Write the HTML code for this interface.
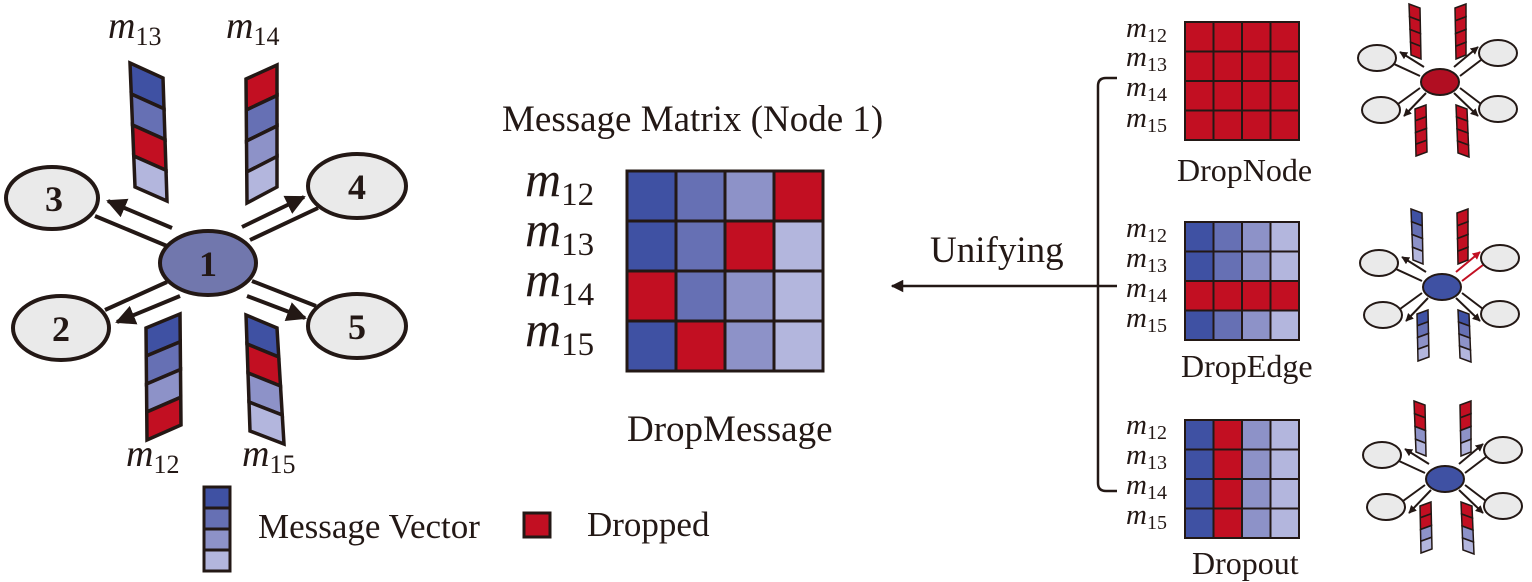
<!DOCTYPE html>
<html><head><meta charset="utf-8"><style>
html,body{margin:0;padding:0;background:#fff;}
svg{display:block;}
text{font-family:"Liberation Serif",serif;fill:#231815;}
.m{font-style:italic;}
</style></head><body>
<svg id="s" width="1532" height="582" viewBox="0 0 1532 582" xmlns="http://www.w3.org/2000/svg">
<defs>
<marker id="ah" viewBox="0 0 10 10" refX="9" refY="5" markerWidth="5" markerHeight="5" orient="auto"><path d="M0,0 L10,5 L0,10 z" fill="#231815"/></marker>
<marker id="ahs" viewBox="0 0 10 10" refX="9" refY="5" markerWidth="4" markerHeight="4" orient="auto"><path d="M0,0 L10,5 L0,10 z" fill="#231815"/></marker>
<marker id="ahr" viewBox="0 0 10 10" refX="9" refY="5" markerWidth="4" markerHeight="4" orient="auto"><path d="M0,0 L10,5 L0,10 z" fill="#c20f22"/></marker>
</defs>
<g stroke="#231815" stroke-width="4">
<line x1="167" y1="246" x2="95" y2="216"/>
<line x1="250" y1="240" x2="318" y2="208"/>
<line x1="167" y1="282" x2="105" y2="310"/>
<line x1="252" y1="281" x2="316" y2="306"/>
<line x1="172" y1="228" x2="108" y2="201" marker-end="url(#ah)"/>
<line x1="242" y1="227" x2="304" y2="197" marker-end="url(#ah)"/>
<line x1="180" y1="296" x2="117" y2="322" marker-end="url(#ah)"/>
<line x1="247" y1="296" x2="305" y2="318" marker-end="url(#ah)"/>
</g>
<g stroke="#231815" stroke-width="4" fill="#eaeaea">
<ellipse cx="52" cy="198" rx="46" ry="31"/>
<ellipse cx="357" cy="186" rx="49" ry="32"/>
<ellipse cx="61" cy="328" rx="48" ry="32"/>
<ellipse cx="357" cy="326" rx="49" ry="32"/>
<ellipse cx="208" cy="263" rx="48" ry="32" fill="#7177ad"/>
</g>
<g font-size="36" font-weight="bold" text-anchor="middle">
<text x="54" y="211">3</text><text x="357" y="199">4</text>
<text x="61" y="341">2</text><text x="357" y="339">5</text>
<text x="208" y="276">1</text>
</g>
<g id="vecs" stroke="#231815" stroke-width="3.5"></g>
<g font-size="38"><text x="108" y="38"><tspan class="m">m</tspan><tspan font-size="26" dy="7">13</tspan></text>
<text x="226" y="38"><tspan class="m">m</tspan><tspan font-size="26" dy="7">14</tspan></text>
<text x="126" y="466"><tspan class="m">m</tspan><tspan font-size="26" dy="7">12</tspan></text>
<text x="242" y="466"><tspan class="m">m</tspan><tspan font-size="26" dy="7">15</tspan></text></g>
<g stroke="#231815" stroke-width="3">
<rect x="204" y="487" width="26" height="21" fill="#3f51a3"/>
<rect x="204" y="508" width="26" height="21" fill="#6670b4"/>
<rect x="204" y="529" width="26" height="21" fill="#8d92c8"/>
<rect x="204" y="550" width="26" height="21" fill="#b3b6dd"/>
<rect x="524" y="513" width="26" height="24" fill="#c20f22"/>
</g>
<text x="258" y="538" font-size="35">Message Vector</text>
<text x="587" y="536" font-size="35">Dropped</text>
<text x="502" y="131" font-size="37">Message Matrix (Node 1)</text>
<g id="mm" stroke="#231815" stroke-width="3"></g>
<g font-size="50"><text x="525" y="196"><tspan class="m">m</tspan><tspan font-size="33" dy="9">12</tspan></text>
<text x="525" y="246"><tspan class="m">m</tspan><tspan font-size="33" dy="9">13</tspan></text>
<text x="525" y="296"><tspan class="m">m</tspan><tspan font-size="33" dy="9">14</tspan></text>
<text x="525" y="346"><tspan class="m">m</tspan><tspan font-size="33" dy="9">15</tspan></text></g>
<text x="627" y="441" font-size="37">DropMessage</text>
<text x="930" y="262" font-size="37">Unifying</text>
<line x1="1097" y1="286" x2="892" y2="286" stroke="#231815" stroke-width="2.5" marker-end="url(#ah)"/>
<path d="M1117,78 L1106,78 Q1098,78 1098,86 L1098,483 Q1098,491 1106,491 L1117,491 M1098,286 L1117,286" fill="none" stroke="#231815" stroke-width="2.5"/>
<g id="rm" stroke="#231815" stroke-width="2"></g>
<g font-size="29">
<text x="1126" y="37"><tspan class="m">m</tspan><tspan font-size="20" dy="5">12</tspan></text>
<text x="1126" y="66"><tspan class="m">m</tspan><tspan font-size="20" dy="5">13</tspan></text>
<text x="1126" y="96"><tspan class="m">m</tspan><tspan font-size="20" dy="5">14</tspan></text>
<text x="1126" y="127"><tspan class="m">m</tspan><tspan font-size="20" dy="5">15</tspan></text>
<text x="1126" y="237"><tspan class="m">m</tspan><tspan font-size="20" dy="5">12</tspan></text>
<text x="1126" y="267"><tspan class="m">m</tspan><tspan font-size="20" dy="5">13</tspan></text>
<text x="1126" y="297"><tspan class="m">m</tspan><tspan font-size="20" dy="5">14</tspan></text>
<text x="1126" y="327"><tspan class="m">m</tspan><tspan font-size="20" dy="5">15</tspan></text>
<text x="1126" y="434"><tspan class="m">m</tspan><tspan font-size="20" dy="5">12</tspan></text>
<text x="1126" y="464"><tspan class="m">m</tspan><tspan font-size="20" dy="5">13</tspan></text>
<text x="1126" y="494"><tspan class="m">m</tspan><tspan font-size="20" dy="5">14</tspan></text>
<text x="1126" y="524"><tspan class="m">m</tspan><tspan font-size="20" dy="5">15</tspan></text>
</g>
<g font-size="32"><text x="1177" y="181">DropNode</text><text x="1181" y="377">DropEdge</text><text x="1192" y="574">Dropout</text></g>
<g id="sg"></g>
</svg>
<script>
var NS="http://www.w3.org/2000/svg";
var C=["#3f51a3","#6670b4","#8d92c8","#b3b6dd"],R="#c20f22";
function el(p,t,a){var e=document.createElementNS(NS,t);for(var k in a)e.setAttribute(k,a[k]);p.appendChild(e);return e;}
function strip(p,tl,tr,br,bl,cols,sw){
 for(var i=0;i<4;i++){var a=i/4,b=(i+1)/4;
  function L(P,Q,t){return [P[0]+(Q[0]-P[0])*t,P[1]+(Q[1]-P[1])*t];}
  var p1=L(tl,bl,a),p2=L(tr,br,a),p3=L(tr,br,b),p4=L(tl,bl,b);
  el(p,"polygon",{points:[p1,p2,p3,p4].map(function(x){return x.join(",")}).join(" "),fill:cols[i],stroke:"#231815","stroke-width":sw});}}
var v=document.getElementById("vecs");
strip(v,[130,63],[163,78],[167,201],[135,187],[C[0],C[1],R,C[3]],3.5);
strip(v,[246,79],[277,65],[277,187],[247,203],[R,C[1],C[2],C[3]],3.5);
strip(v,[146,328],[180,314],[181,425],[147,440],[C[0],C[1],C[2],R],3.5);
strip(v,[246,315],[277,328],[284,444],[250,431],[C[0],R,C[2],C[3]],3.5);
var mm=document.getElementById("mm");
var M=[[C[0],C[1],C[2],R],[C[0],C[1],R,C[3]],[R,C[1],C[2],C[3]],[C[0],R,C[2],C[3]]];
for(var r=0;r<4;r++)for(var c=0;c<4;c++)el(mm,"rect",{x:627+c*49,y:171+r*50,width:49,height:50,fill:M[r][c]});
var rm=document.getElementById("rm");
var Ms=[[[R,R,R,R],[R,R,R,R],[R,R,R,R],[R,R,R,R]],
 [C,C,[R,R,R,R],C],
 [[C[0],R,C[2],C[3]],[C[0],R,C[2],C[3]],[C[0],R,C[2],C[3]],[C[0],R,C[2],C[3]]]];
var Y=[22,222,420];
for(var k=0;k<3;k++)for(var r=0;r<4;r++)for(var c=0;c<4;c++)el(rm,"rect",{x:1185+c*28.5,y:Y[k]+r*29.5,width:28.5,height:29.5,fill:Ms[k][r][c]});
var sg=document.getElementById("sg");
var G=[{dy:0,dx:0,core:"#b10e22",v:[[R,R,R,R],[R,R,R,R],[R,R,R,R],[R,R,R,R]],red:false},
 {dy:205,dx:2,core:"#3f51a3",v:[C,[R,R,R,R],C,C],red:true},
 {dy:397,dx:5,core:"#3f51a3",v:[[R,R,C[2],C[3]],[R,R,C[2],C[3]],[R,R,C[2],C[3]],[R,R,C[2],C[3]]],red:false}];
G.forEach(function(g){
 var dx=g.dx,dy=g.dy,cx=1440+dx,cy=82+dy;
 var sat=[[1377,58],[1498,53],[1381,110],[1498,109]];
 var ln=[[[cx-20,cy-6],[1394,64]],[[cx+20,cy-6],[1481,60]],[[cx-20,cy+6],[1398,104]],[[cx+20,cy+6],[1481,104]]];
 var ar=[[[cx-16,cy-15],[1400,52]],[[cx+14,cy-15],[1478,47]],[[cx-14,cy+11],[1404,116]],[[cx+14,cy+11],[1478,116]]];
 for(var i=0;i<4;i++){
  var col=(g.red&&i==1)?R:"#231815";
  el(sg,"line",{x1:ln[i][0][0],y1:ln[i][0][1],x2:ln[i][1][0]+dx,y2:ln[i][1][1]+dy,stroke:col,"stroke-width":2});
  el(sg,"line",{x1:ar[i][0][0],y1:ar[i][0][1],x2:ar[i][1][0]+dx,y2:ar[i][1][1]+dy,stroke:col,"stroke-width":2,"marker-end":(g.red&&i==1)?"url(#ahr)":"url(#ahs)"});
 }
 sat.forEach(function(s){el(sg,"ellipse",{cx:s[0]+dx,cy:s[1]+dy,rx:19,ry:13,fill:"#eaeaea",stroke:"#231815","stroke-width":2});});
 el(sg,"ellipse",{cx:cx,cy:cy,rx:19,ry:13,fill:g.core,stroke:"#231815","stroke-width":2});
 strip(sg,[1409+dx,4+dy],[1420+dx,8+dy],[1421+dx,59+dy],[1411+dx,55+dy],g.v[0],1.5);
 strip(sg,[1455+dx,8+dy],[1466+dx,4+dy],[1466+dx,55+dy],[1456+dx,59+dy],g.v[1],1.5);
 strip(sg,[1415+dx,109+dy],[1426+dx,105+dy],[1427+dx,152+dy],[1416+dx,156+dy],g.v[2],1.5);
 strip(sg,[1456+dx,105+dy],[1467+dx,109+dy],[1469+dx,157+dy],[1458+dx,153+dy],g.v[3],1.5);
});
</script>
</body></html>
